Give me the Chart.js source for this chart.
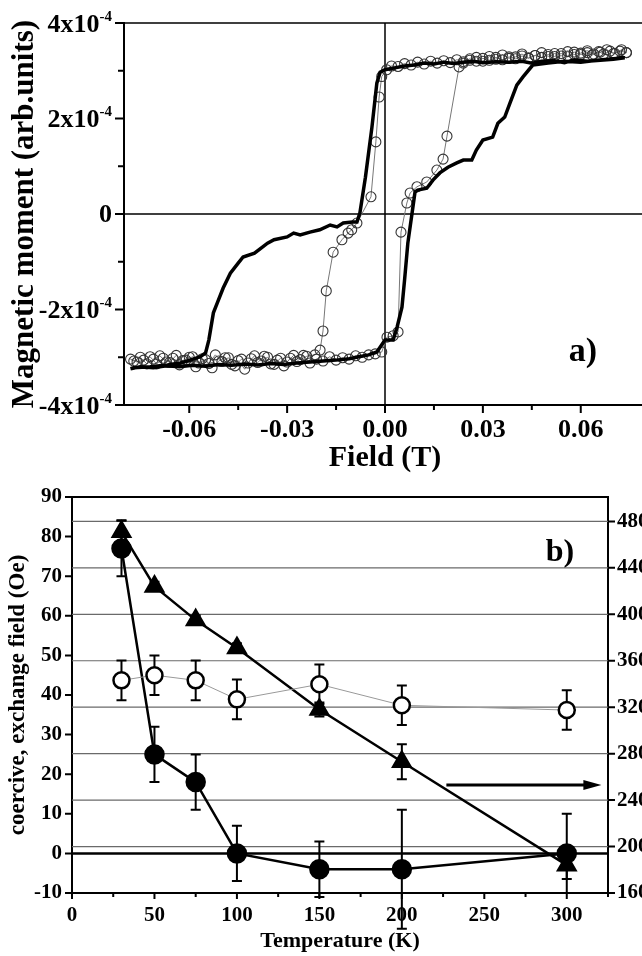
<!DOCTYPE html>
<html>
<head>
<meta charset="utf-8">
<script src="https://cdn.jsdelivr.net/npm/chart.js@4.4.0/dist/chart.umd.min.js"></script>
<style>
  body { margin: 0; background: #fff; overflow: hidden; width: 642px; height: 956px; position: relative; }
  canvas { position: absolute; left: 0; }
  #loop { top: 0; }
  #temp { top: 470px; }
</style>
</head>
<body>
<canvas id="loop" width="680" height="490"></canvas>
<canvas id="temp" width="680" height="486"></canvas>
<script>
const serif = '"Liberation Serif", "Times New Roman", serif'

// a) hysteresis loops, moment in units of 1e-4
const thickField = [0.0735, 0.070, 0.066, 0.062, 0.058, 0.055, 0.052, 0.048, 0.045, 0.042,
    0.038, 0.034, 0.030, 0.027, 0.024, 0.021, 0.018, 0.015, 0.012, 0.009,
    0.006, 0.003, 0.000, -0.0015, -0.0025, -0.004, -0.006, -0.0077, -0.0086, -0.010,
    -0.0128, -0.0147, -0.0168, -0.020, -0.023, -0.026, -0.028, -0.030, -0.034, -0.036,
    -0.040, -0.0435, -0.045, -0.0474, -0.0496, -0.0514, -0.0526, -0.054, -0.055, -0.0566,
    -0.0597, -0.0627, -0.0667, -0.072, -0.077,
    -0.078, -0.075, -0.071, -0.067, -0.063, -0.059, -0.055, -0.051, -0.047, -0.043,
    -0.039, -0.035, -0.031, -0.027, -0.023, -0.019, -0.015, -0.011, -0.008, -0.005,
    -0.0025, 0.000, 0.0025, 0.0037, 0.0052, 0.006, 0.007, 0.0083, 0.0092, 0.010,
    0.0128, 0.0147, 0.0168, 0.0193, 0.022, 0.024, 0.0266, 0.028, 0.030, 0.033,
    0.0346, 0.0367, 0.0383, 0.0404, 0.0423, 0.0453, 0.050, 0.055, 0.060, 0.065,
    0.070, 0.0735]
const thickMoment = [3.27, 3.24, 3.22, 3.20, 3.23, 3.17, 3.21, 3.20, 3.16, 3.20,
    3.18, 3.19, 3.17, 3.20, 3.18, 3.15, 3.18, 3.14, 3.16, 3.12,
    3.10, 3.06, 3.02, 2.97, 2.74, 1.82, 0.77, 0.02, -0.17, -0.17,
    -0.19, -0.27, -0.23, -0.33, -0.38, -0.44, -0.40, -0.48, -0.54, -0.61,
    -0.82, -0.90, -1.03, -1.24, -1.55, -1.86, -2.07, -2.64, -2.91, -2.99,
    -3.06, -3.12, -3.16, -3.20, -3.22,
    -3.24, -3.20, -3.22, -3.18, -3.20, -3.17, -3.19, -3.15, -3.17, -3.14,
    -3.16, -3.13, -3.15, -3.12, -3.10, -3.08, -3.06, -3.03, -2.99, -2.95,
    -2.89, -2.64, -2.64, -2.37, -1.95, -1.38, -0.61, 0.02, 0.46, 0.50,
    0.54, 0.71, 0.86, 0.98, 1.07, 1.13, 1.13, 1.34, 1.55, 1.61,
    1.90, 2.03, 2.32, 2.70, 2.87, 3.12, 3.16, 3.20, 3.18, 3.22,
    3.25, 3.27]

const circleField = [0.0740, 0.0725, 0.0705, 0.0690, 0.0670, 0.0655, 0.0635, 0.0620, 0.0600, 0.0580,
    0.0560, 0.0540, 0.0520, 0.0500, 0.0480, 0.0460, 0.0440, 0.0420, 0.0400, 0.0380,
    0.0360, 0.0340, 0.0320, 0.0300, 0.0280, 0.0260, 0.0240, 0.0220, 0.0200, 0.0180,
    0.0160, 0.0140, 0.0120, 0.0100, 0.0080, 0.0060, 0.0040, 0.0020, 0.0005, -0.0010,
    -0.0018, -0.0028, -0.0043, -0.0086, -0.0102, -0.0113, -0.0132, -0.0159, -0.0180, -0.0190,
    -0.0199, -0.0215,
    -0.024, -0.026, -0.028, -0.030, -0.032, -0.034, -0.036, -0.038, -0.040, -0.042,
    -0.044, -0.046, -0.048, -0.050, -0.052, -0.054, -0.056, -0.058, -0.060, -0.062,
    -0.064, -0.066, -0.068, -0.070, -0.072, -0.074, -0.076, -0.078,
    -0.077, -0.075, -0.073, -0.071, -0.069, -0.067, -0.065, -0.063, -0.061, -0.059,
    -0.057, -0.055, -0.053, -0.051, -0.049, -0.047, -0.045, -0.043, -0.041, -0.039,
    -0.037, -0.035, -0.033, -0.031, -0.029, -0.027, -0.025, -0.023, -0.021, -0.019,
    -0.017, -0.015, -0.013, -0.011, -0.009, -0.007, -0.005, -0.003,
    -0.001, 0.0006, 0.0025, 0.004, 0.0049, 0.0067, 0.0077, 0.0098, 0.0128, 0.0159,
    0.0178, 0.019, 0.0227, 0.024,
    0.026, 0.028, 0.030, 0.032, 0.034, 0.036, 0.038, 0.040, 0.042, 0.044,
    0.046, 0.048, 0.050, 0.052, 0.054, 0.056, 0.058, 0.060, 0.062, 0.064,
    0.066, 0.068, 0.070, 0.072, 0.074]
const circleMoment = [3.38, 3.44, 3.36, 3.41, 3.35, 3.40, 3.33, 3.38, 3.34, 3.39,
    3.31, 3.36, 3.30, 3.34, 3.28, 3.32, 3.26, 3.31, 3.25, 3.29,
    3.23, 3.28, 3.22, 3.26, 3.20, 3.25, 3.19, 3.23, 3.17, 3.21,
    3.16, 3.20, 3.14, 3.18, 3.12, 3.15, 3.09, 3.10, 3.02, 2.88,
    2.45, 1.51, 0.36, -0.19, -0.33, -0.40, -0.54, -0.80, -1.61, -2.45,
    -2.85, -2.95,
    -2.98, -3.05, -2.96, -3.10, -3.02, -3.15, -3.00, -3.08, -2.97, -3.12,
    -3.04, -3.18, -3.01, -3.09, -2.95, -3.13, -3.03, -3.20, -3.00, -3.07,
    -2.96, -3.11, -3.02, -3.14, -2.99, -3.06, -3.10, -3.04,
    -3.08, -3.00, -3.14, -3.04, -2.97, -3.10, -3.02, -3.16, -3.06, -2.99,
    -3.12, -3.05, -3.22, -3.08, -3.01, -3.15, -3.07, -3.25, -3.03, -3.11,
    -2.98, -3.14, -3.06, -3.18, -3.02, -3.09, -2.96, -3.12, -3.04, -3.08,
    -2.99, -3.06, -3.01, -3.04, -2.97, -3.00, -2.95, -2.93,
    -2.89, -2.58, -2.55, -2.47, -0.38, 0.23, 0.44, 0.57, 0.67, 0.92,
    1.15, 1.63, 3.08, 3.16,
    3.22, 3.28, 3.20, 3.30, 3.24, 3.33, 3.26, 3.29, 3.35, 3.27,
    3.32, 3.38, 3.30, 3.36, 3.31, 3.40, 3.34, 3.37, 3.42, 3.35,
    3.39, 3.44, 3.36, 3.41, 3.38]

// b) temperature dependence
const temps = [30, 50, 75, 100, 150, 200, 300]
const exchange = [77, 25, 18, 0, -4, -4, 0]
const exchangeErr = [7, 7, 7, 7, 7, 15, 10]
const coercive = [43.7, 45, 43.7, 38.9, 42.7, 37.4, 36.2]
const coerciveErr = [5, 5, 5, 5, 5, 5, 5]
const rightSeries = [471, 424, 395, 371, 318, 273, 184]
const rightErr = [10, 4, 4, 4, 6, 15, 12]


function isMult(v, m) {
    return Math.abs(v / m - Math.round(v / m)) < 1e-6
}

function pairs(xs, ys) {
    return xs.map((x, i) => ({ x: x, y: ys[i] }))
}

// tick marks: major ones longer, pointing out of the frame
function tickMarks(chart, id, minor, major, majorLen, minorLen) {
    const s = chart.scales[id]
    const ctx = chart.ctx
    ctx.save()
    ctx.strokeStyle = '#000'
    ctx.lineWidth = 2
    ctx.beginPath()
    for (let t of s.ticks) {
        if (!isMult(t.value, minor)) continue
        let len = isMult(t.value, major) ? majorLen : minorLen
        let p = s.getPixelForValue(t.value)
        if (s.position === 'bottom') {
            ctx.moveTo(p, s.top); ctx.lineTo(p, s.top + len)
        } else if (s.position === 'left') {
            ctx.moveTo(s.right, p); ctx.lineTo(s.right - len, p)
        } else {
            ctx.moveTo(s.left, p); ctx.lineTo(s.left + len, p)
        }
    }
    ctx.stroke()
    ctx.restore()
}

const loopFrame = {
    id: 'loopFrame',
    beforeDatasetsDraw(chart) {
        const { ctx, chartArea, scales } = chart
        const x0 = scales.x.getPixelForValue(0)
        const y0 = scales.y.getPixelForValue(0)
        ctx.save()
        ctx.strokeStyle = '#000'
        ctx.lineWidth = 1.5
        ctx.beginPath()
        ctx.moveTo(chartArea.left, chartArea.top); ctx.lineTo(chartArea.right, chartArea.top)
        ctx.moveTo(x0, chartArea.top); ctx.lineTo(x0, chartArea.bottom)
        ctx.moveTo(chartArea.left, y0); ctx.lineTo(chartArea.right, y0)
        ctx.stroke()
        ctx.restore()
    },
    afterDraw(chart) {
        const { ctx, chartArea, scales } = chart
        tickMarks(chart, 'x', 0.015, 0.03, 8, 5)
        tickMarks(chart, 'y', 1, 2, 9, 6)

        // y labels with exponent
        ctx.save()
        ctx.fillStyle = '#000'
        ctx.textAlign = 'right'
        ctx.textBaseline = 'middle'
        const xr = chartArea.left - 12
        for (let t of scales.y.ticks) {
            if (!isMult(t.value, 2)) continue
            let py = scales.y.getPixelForValue(t.value)
            if (t.value === 0) {
                ctx.font = 'bold 26px ' + serif
                ctx.fillText('0', xr, py + 1)
                continue
            }
            ctx.font = 'bold 15px ' + serif
            let sw = ctx.measureText('-4').width
            ctx.fillText('-4', xr, py - 6)
            ctx.font = 'bold 26px ' + serif
            ctx.fillText(t.value + 'x10', xr - sw, py + 2)
        }
        ctx.font = 'bold 34px ' + serif
        ctx.textAlign = 'center'
        ctx.fillText('a)', chartArea.right - 63, scales.y.getPixelForValue(-2.9))
        ctx.restore()
    }
}

new Chart(document.getElementById('loop'), {
    type: 'scatter',
    data: {
        datasets: [
            {
                data: pairs(thickField, thickMoment),
                showLine: true,
                borderColor: '#000',
                borderWidth: 3.5,
                pointRadius: 0,
                order: 0
            },
            {
                data: pairs(circleField, circleMoment),
                showLine: true,
                borderColor: '#777',
                borderWidth: 1,
                pointRadius: 5,
                pointBorderColor: '#333',
                pointBorderWidth: 1.1,
                pointBackgroundColor: 'rgba(255,255,255,0)',
                order: 1
            }
        ]
    },
    options: {
        responsive: false,
        animation: false,
        events: [],
        layout: { padding: { top: 23, right: 34, left: 0, bottom: 0 } },
        plugins: {
            legend: { display: false },
            tooltip: { enabled: false }
        },
        scales: {
            x: {
                type: 'linear',
                min: -0.08,
                max: 0.08,
                afterFit: s => { s.height = 85 },
                grid: { display: false, drawTicks: false },
                border: { display: true, color: '#000', width: 2 },
                ticks: {
                    stepSize: 0.015,
                    autoSkip: false,
                    maxRotation: 0,
                    padding: 10,
                    color: '#000',
                    font: { family: serif, size: 26, weight: 'bold' },
                    callback: v => isMult(v, 0.03) ? (Math.abs(v) < 1e-9 ? '0.00' : v.toFixed(2)) : ''
                },
                title: {
                    display: true,
                    text: 'Field (T)',
                    color: '#000',
                    font: { family: serif, size: 30, weight: 'bold' },
                    padding: { top: 0, bottom: 14 }
                }
            },
            y: {
                min: -4,
                max: 4,
                afterFit: s => { s.width = 124 },
                grid: { display: false, drawTicks: false },
                border: { display: true, color: '#000', width: 2 },
                ticks: { stepSize: 1, callback: () => '' },
                title: {
                    display: true,
                    text: 'Magnetic moment (arb.units)',
                    color: '#000',
                    font: { family: serif, size: 31, weight: 'bold' },
                    padding: { top: 6, bottom: 0 }
                }
            }
        }
    },
    plugins: [loopFrame]
})


function errorBars(chart, ys, errs, id) {
    const { ctx, scales } = chart
    ctx.save()
    ctx.strokeStyle = '#000'
    ctx.lineWidth = 2
    ctx.beginPath()
    temps.forEach((t, i) => {
        let px = scales.x.getPixelForValue(t)
        let hi = scales[id].getPixelForValue(ys[i] + errs[i])
        let lo = scales[id].getPixelForValue(ys[i] - errs[i])
        ctx.moveTo(px, hi); ctx.lineTo(px, lo)
        ctx.moveTo(px - 5, hi); ctx.lineTo(px + 5, hi)
        ctx.moveTo(px - 5, lo); ctx.lineTo(px + 5, lo)
    })
    ctx.stroke()
    ctx.restore()
}

const tempFrame = {
    id: 'tempFrame',
    beforeDatasetsDraw(chart) {
        const { ctx, chartArea, scales } = chart
        ctx.save()
        // grid follows the right axis
        for (let t of scales.yR.ticks) {
            if (!isMult(t.value, 20) || t.value <= 160 || t.value >= 500) continue
            let py = scales.yR.getPixelForValue(t.value)
            ctx.beginPath()
            if (isMult(t.value, 40)) {
                ctx.strokeStyle = '#6a6a6a'
                ctx.lineWidth = 1.2
                ctx.setLineDash([])
            } else {
                ctx.strokeStyle = '#c4c4c4'
                ctx.lineWidth = 1
                ctx.setLineDash([1, 2])
            }
            ctx.moveTo(chartArea.left, py); ctx.lineTo(chartArea.right, py)
            ctx.stroke()
        }
        ctx.setLineDash([])
        ctx.strokeStyle = '#000'
        ctx.lineWidth = 2.5
        ctx.beginPath()
        let y0 = scales.y.getPixelForValue(0)
        ctx.moveTo(chartArea.left, y0); ctx.lineTo(chartArea.right, y0)
        ctx.stroke()
        ctx.lineWidth = 2
        ctx.beginPath()
        ctx.moveTo(chartArea.left, chartArea.top); ctx.lineTo(chartArea.right, chartArea.top)
        ctx.stroke()
        ctx.restore()

        errorBars(chart, exchange, exchangeErr, 'y')
        errorBars(chart, coercive, coerciveErr, 'y')
        errorBars(chart, rightSeries, rightErr, 'yR')
    },
    afterDraw(chart) {
        const { ctx, chartArea, scales } = chart
        tickMarks(chart, 'x', 25, 50, 6, 4)
        tickMarks(chart, 'y', 5, 10, 7, 4)
        tickMarks(chart, 'yR', 20, 40, 7, 4)

        // arrow pointing at the right axis
        let ay = scales.yR.getPixelForValue(253)
        let ax1 = scales.x.getPixelForValue(227)
        let ax2 = scales.x.getPixelForValue(321)
        ctx.save()
        ctx.strokeStyle = '#000'
        ctx.fillStyle = '#000'
        ctx.lineWidth = 3
        ctx.beginPath()
        ctx.moveTo(ax1, ay); ctx.lineTo(ax2 - 12, ay)
        ctx.stroke()
        ctx.beginPath()
        ctx.moveTo(ax2, ay); ctx.lineTo(ax2 - 18, ay - 5); ctx.lineTo(ax2 - 18, ay + 5)
        ctx.closePath()
        ctx.fill()

        ctx.font = 'bold 32px ' + serif
        ctx.textAlign = 'center'
        ctx.textBaseline = 'middle'
        ctx.fillText('b)', chartArea.right - 48, chartArea.top + 56)
        ctx.restore()
    }
}

const tickFont = { family: serif, size: 21, weight: 'bold' }

new Chart(document.getElementById('temp'), {
    type: 'line',
    data: {
        datasets: [
            {
                data: pairs(temps, coercive),
                yAxisID: 'y',
                borderColor: '#999',
                borderWidth: 1,
                pointRadius: 8,
                pointBorderWidth: 2.5,
                pointBorderColor: '#000',
                pointBackgroundColor: '#fff',
                order: 0
            },
            {
                data: pairs(temps, rightSeries),
                yAxisID: 'yR',
                borderColor: '#000',
                borderWidth: 2.5,
                pointStyle: 'triangle',
                pointRadius: 10,
                pointBorderColor: '#000',
                pointBackgroundColor: '#000',
                order: 1
            },
            {
                data: pairs(temps, exchange),
                yAxisID: 'y',
                borderColor: '#000',
                borderWidth: 2.5,
                pointRadius: 9,
                pointBorderColor: '#000',
                pointBackgroundColor: '#000',
                order: 2
            }
        ]
    },
    options: {
        responsive: false,
        animation: false,
        events: [],
        layout: { padding: { top: 27, right: 0, left: 0, bottom: 0 } },
        plugins: {
            legend: { display: false },
            tooltip: { enabled: false }
        },
        scales: {
            x: {
                type: 'linear',
                min: 0,
                max: 325,
                afterFit: s => { s.height = 63 },
                grid: { display: false, drawTicks: false },
                border: { display: true, color: '#000', width: 2 },
                ticks: {
                    stepSize: 25,
                    autoSkip: false,
                    maxRotation: 0,
                    padding: 10,
                    color: '#000',
                    font: tickFont,
                    callback: v => isMult(v, 50) ? String(v) : ''
                },
                title: {
                    display: true,
                    text: 'Temperature (K)',
                    color: '#000',
                    font: { family: serif, size: 22, weight: 'bold' },
                    padding: { top: 0, bottom: 1 }
                }
            },
            y: {
                position: 'left',
                min: -10,
                max: 90,
                afterFit: s => { s.width = 72 },
                grid: { display: false, drawTicks: false },
                border: { display: true, color: '#000', width: 2 },
                ticks: {
                    stepSize: 5,
                    padding: 10,
                    color: '#000',
                    font: tickFont,
                    callback: v => isMult(v, 10) ? String(v) : ''
                },
                title: {
                    display: true,
                    text: 'coercive, exchange field (Oe)',
                    color: '#000',
                    font: { family: serif, size: 23, weight: 'bold' },
                    padding: { top: 4, bottom: 0 }
                }
            },
            yR: {
                position: 'right',
                min: 160,
                max: 501,
                afterFit: s => { s.width = 72 },
                grid: { display: false, drawTicks: false },
                border: { display: true, color: '#000', width: 2 },
                ticks: {
                    stepSize: 20,
                    padding: 9,
                    color: '#000',
                    font: tickFont,
                    callback: v => isMult(v, 40) ? String(v) : ''
                }
            }
        }
    },
    plugins: [tempFrame]
})
</script>
</body>
</html>
